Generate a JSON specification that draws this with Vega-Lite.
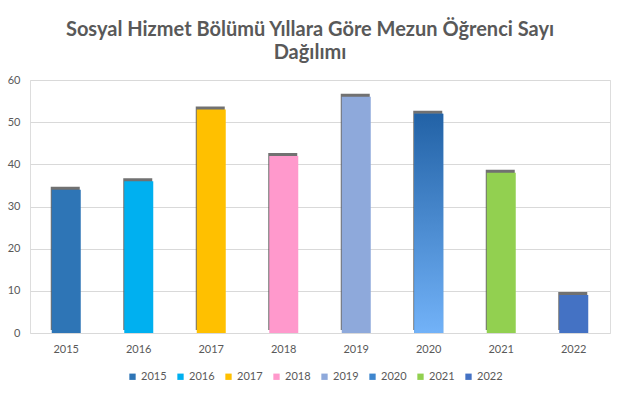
{
  "$schema": "https://vega.github.io/schema/vega-lite/v6.json",
  "autosize": {"type": "none"},
  "width": 580,
  "height": 253,
  "padding": {"left": 30, "top": 80, "right": 15, "bottom": 62},
  "background": "white",
  "title": {
    "text": ["Sosyal Hizmet Bölümü Yıllara Göre Mezun Öğrenci Sayı", "Dağılımı"],
    "font": "Lato",
    "fontSize": 20,
    "fontWeight": "bold",
    "color": "#595959",
    "lineHeight": 23,
    "anchor": "middle",
    "dx": -10,
    "offset": 11
  },
  "data": {
    "values": [
      {"year": "2015", "count": 34},
      {"year": "2016", "count": 36},
      {"year": "2017", "count": 53},
      {"year": "2018", "count": 42},
      {"year": "2019", "count": 56},
      {"year": "2020", "count": 52},
      {"year": "2021", "count": 38},
      {"year": "2022", "count": 9}
    ]
  },
  "encoding": {
    "x": {
      "field": "year", "type": "nominal",
      "scale": {"paddingInner": 0.6, "paddingOuter": 0.3},
      "axis": {"title": null, "labelAngle": 0, "ticks": false, "tickSize": 0, "labelPadding": 10, "domain": false, "labelFont": "Lato", "labelFontSize": 11, "labelColor": "#595959", "grid": false}
    },
    "y": {
      "field": "count", "type": "quantitative",
      "scale": {"domain": [0, 60]},
      "axis": {"title": null, "values": [0, 10, 20, 30, 40, 50, 60], "ticks": false, "tickSize": 0, "labelPadding": 10, "domain": false, "labelFont": "Lato", "labelFontSize": 11, "labelColor": "#595959", "gridColor": "#d9d9d9", "gridWidth": 1}
    }
  },
  "layer": [
    {
      "mark": {"type": "bar", "color": "#4d4d4d", "opacity": 0.8, "yOffset": -3, "xOffset": -1},
      "encoding": {}
    },
    {
      "mark": {"type": "bar"},
      "encoding": {
        "color": {
          "field": "year", "type": "nominal",
          "scale": {
            "domain": ["2015", "2016", "2017", "2018", "2019", "2020", "2021", "2022"],
            "range": ["#2E75B6", "#00B0F0", "#FFC000", "#FF99CC", "#8EA9DB", "#3E86CE", "#92D050", "#4472C4"]
          },
          "legend": {
            "title": null, "orient": "none", "legendX": 97, "legendY": 291, "direction": "horizontal", "symbolType": "square", "symbolSize": 40, "symbolStrokeWidth": 0,
            "labelFont": "Lato", "labelFontSize": 11, "labelColor": "#595959", "columnPadding": 8, "labelOffset": 3,
            "encode": {
              "symbols": {
                "update": {
                  "fill": [
                    {"test": "datum.value === '2020'", "value": {"gradient": "linear", "x1": 0, "y1": 0, "x2": 1, "y2": 1, "stops": [{"offset": 0, "color": "#2262A6"}, {"offset": 1, "color": "#8CC4FF"}]}},
                    {"scale": "color", "field": "value"}
                  ]
                }
              }
            }
          }
        }
      }
    },
    {
      "transform": [{"filter": "datum.year === '2020'"}],
      "mark": {"type": "bar", "color": {"gradient": "linear", "x1": 0, "y1": 0, "x2": 0, "y2": 1, "stops": [{"offset": 0, "color": "#2262A6"}, {"offset": 1, "color": "#72B2F8"}]}},
      "encoding": {}
    }
  ]
}
